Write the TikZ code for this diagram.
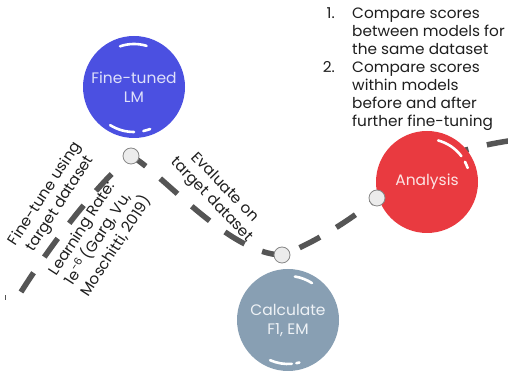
\documentclass[tikz,border=0pt]{standalone}
\usepackage{fontspec}
\setmainfont{Poppins}[FakeStretch=1.02]
\definecolor{cblue}{RGB}{75,80,225}
\definecolor{cbluetext}{RGB}{222,224,250}
\definecolor{cred}{RGB}{233,58,64}
\definecolor{credtext}{RGB}{252,228,228}
\definecolor{cgray}{RGB}{136,159,179}
\definecolor{cgraytext}{RGB}{238,242,246}
\definecolor{cdash}{RGB}{85,85,85}
\definecolor{cmark}{RGB}{236,236,236}
\definecolor{cmarkedge}{RGB}{135,135,135}
\definecolor{ctext}{RGB}{30,30,30}
\begin{document}
\begin{tikzpicture}[x=1pt,y=1pt,
  bubble/.style={circle, minimum size=102pt, inner sep=0pt, align=center, font=\fontsize{15.2}{19}\selectfont},
  dashline/.style={draw=cdash, line width=5.5pt, dash pattern=on 23pt off 19pt},
  marker/.style={circle, fill=cmark, draw=cmarkedge, line width=0.8pt, minimum size=16pt, inner sep=0pt},
  shine/.style={draw=white, line width=2.6pt, line cap=round},
  note/.style={text=ctext, font=\fontsize{15}{18}\selectfont, inner sep=0pt}]
\useasboundingbox (0,0) rectangle (508,371);

\coordinate (p0) at (21,79);
\coordinate (p1) at (131,215);
\coordinate (p2) at (282,116);
\coordinate (p3) at (377,173);
\coordinate (pend) at (515,231);
\coordinate (tickA) at (5,71);
\coordinate (tickB) at (5,76);

\draw[cdash, line width=0.8pt] (tickA) -- (tickB);
\draw[dashline] (p0) .. controls (50,125) and (95,185) .. (p1);
\draw[dashline, dash phase=5pt] (p1) .. controls (160,200) and (228,117) .. (p2);
\draw[dashline, dash phase=23pt] (p2) .. controls (310,126) and (350,150) .. (p3);
\draw[dashline, dash phase=2pt] (p3) .. controls (400,200) and (450,222) .. (pend);

\node[bubble, fill=cblue, text=cbluetext] (lm) at (134,284) {Fine-tuned\\LM};
\node[bubble, fill=cred, text=credtext] (an) at (427,189) {Analysis};
\node[bubble, fill=cgray, text=cgraytext] (cal) at (288,51) {Calculate\\F1, EM};

\draw[shine] ([shift={(73:43)}]lm.center) arc[start angle=73, end angle=109, radius=43];
\draw[shine] ([shift={(238:45)}]lm.center) arc[start angle=238, end angle=270, radius=45];
\draw[shine] ([shift={(282:45)}]lm.center) arc[start angle=282, end angle=291, radius=45];
\draw[shine] ([shift={(37:43)}]an.center) arc[start angle=37, end angle=75, radius=43];
\draw[shine] ([shift={(19:43)}]an.center) arc[start angle=19, end angle=28, radius=43];
\draw[shine] ([shift={(57:44)}]cal.center) arc[start angle=57, end angle=81, radius=44];
\draw[shine] ([shift={(246:44)}]cal.center) arc[start angle=246, end angle=275, radius=44];
\draw[shine] ([shift={(281:44)}]cal.center) arc[start angle=281, end angle=285, radius=44];

\node[marker] (mk1) at (p1) {};
\node[marker] (mk2) at (p2) {};
\node[marker] (mk3) at (p3) {};

\node[note, anchor=base east] (n1) at (335,352.7) {1.};
\node[note, anchor=north west, align=left] (t1) at (352,363.2) {Compare scores\\between models for\\the same dataset};
\node[note, anchor=base east] (n2) at (335,298.3) {2.};
\node[note, anchor=north west, align=left] (t2) at (352,308.8) {Compare scores\\within models\\before and after\\further fine-tuning};

\node[note, rotate=57, align=center] (ft) at (53,172) {Fine-tune using\\target dataset};
\node[note, rotate=57, align=left, anchor=west] (lr) at (69,86.4) {Learning Rate:\\1e\textsuperscript{-6} (Garg, Vu,\\Moschitti, 2019)};
\node[note, rotate=-46, align=center] (ev) at (218,177) {Evaluate on\\target dataset};
\end{tikzpicture}
\end{document}
